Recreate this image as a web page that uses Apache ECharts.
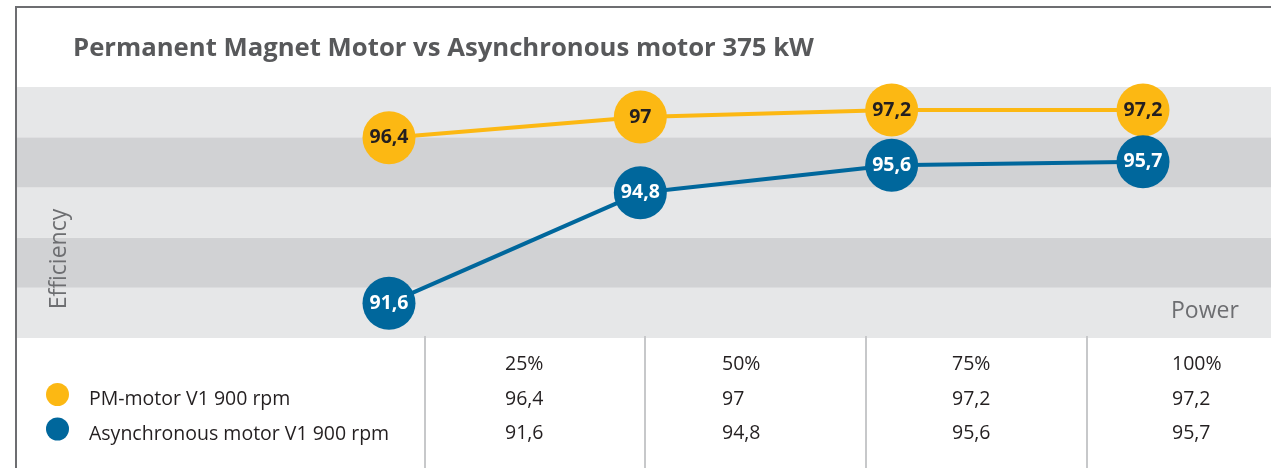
<!DOCTYPE html>
<html><head><meta charset="utf-8">
<script src="https://cdn.jsdelivr.net/npm/echarts@6/dist/echarts.min.js"></script>
<style>html,body{margin:0;padding:0;background:#fff}#c{width:1271px;height:468px}</style>
</head><body><div id="c"></div>
<script>
// ---- data ----
const titleText = 'Permanent Magnet Motor vs Asynchronous motor 375 kW';
const categories = ['25%', '50%', '75%', '100%'];
const seriesNames = ['PM-motor V1 900 rpm', 'Asynchronous motor V1 900 rpm'];
const pmValues = [96.4, 97, 97.2, 97.2];
const asyncValues = [91.6, 94.8, 95.6, 95.7];
const yAxisName = 'Efficiency';
const xAxisName = 'Power';

// ---- style / layout ----
const FONT = '"Open Sans", sans-serif';
const colors = ['#FCB813', '#00679C'];
const labelColors = ['#231F20', '#FFFFFF'];
const colDividers = [425, 645, 866, 1087];
const colTextX = [505, 722, 952, 1172];
const rowY = [364.5, 399.5, 433.5];
const fmt = v => String(v).replace('.', ',');

const chart = echarts.init(document.getElementById('c'), null, { renderer: 'canvas' });

const graphics = [];
graphics.push({ type: 'line', shape: { x1: 15, y1: 7, x2: 1271, y2: 7 }, style: { stroke: '#6d6e71', lineWidth: 2 }, z: 10 });
graphics.push({ type: 'line', shape: { x1: 16, y1: 6, x2: 16, y2: 468 }, style: { stroke: '#6d6e71', lineWidth: 2 }, z: 10 });
colDividers.forEach(x => graphics.push({ type: 'line', shape: { x1: x, y1: 336, x2: x, y2: 468 }, style: { stroke: '#c7c8ca', lineWidth: 2 }, z: 10 }));
const tableRows = [categories, pmValues.map(fmt), asyncValues.map(fmt)];
tableRows.forEach((row, r) => row.forEach((t, c) => graphics.push({
  type: 'text', x: colTextX[c], y: rowY[r], z: 10,
  style: { text: t, fontFamily: FONT, fontSize: 19.5, fill: '#231f20', align: 'left', verticalAlign: 'middle' }
})));
graphics.push({
  type: 'text', x: 59, y: 259, rotation: Math.PI / 2, z: 10,
  style: { text: yAxisName, fontFamily: FONT, fontSize: 23, fill: '#6d6e71', align: 'center', verticalAlign: 'middle' }
});
graphics.push({
  type: 'text', x: 1171, y: 311, z: 10,
  style: { text: xAxisName, fontFamily: FONT, fontSize: 23, fill: '#6d6e71', align: 'left', verticalAlign: 'middle' }
});

const option = {
  animation: false,
  backgroundColor: '#ffffff',
  title: {
    text: titleText, left: 73, top: 36, padding: 0,
    textStyle: { fontFamily: FONT, fontWeight: 'bold', fontSize: 25.7, color: '#58595b' }
  },
  legend: {
    orient: 'vertical', left: 46, top: 383, padding: 0, itemGap: 8,
    itemWidth: 23, itemHeight: 23, icon: 'circle', data: seriesNames,
    formatter: name => '{t|' + name + '}',
    textStyle: {
      fontFamily: FONT, fontSize: 19.5, color: '#231f20', padding: [0, 0, 0, 15],
      rich: { t: { fontFamily: FONT, fontSize: 19.5, color: '#231f20', padding: [10, 0, 0, 0] } }
    }
  },
  grid: [
    { left: 17, right: 0, top: 87, height: 251, outerBoundsMode: 'none' },
    { left: 389, right: 128, top: 87, height: 251, outerBoundsMode: 'none' }
  ],
  xAxis: [
    { type: 'value', gridIndex: 0, min: 0, max: 1, show: false },
    { type: 'category', gridIndex: 1, data: categories, boundaryGap: false, show: false }
  ],
  yAxis: [
    {
      type: 'value', gridIndex: 0, min: 0, max: 5, interval: 1,
      axisLine: { show: false }, axisTick: { show: false }, axisLabel: { show: false },
      splitLine: { show: false },
      splitArea: { show: true, areaStyle: { color: ['#e6e7e8', '#d1d2d4'] } }
    },
    { type: 'value', gridIndex: 1, min: 90.59, max: 97.87, show: false }
  ],
  graphic: graphics,
  series: [pmValues, asyncValues].map((vals, i) => ({
    name: seriesNames[i], type: 'line', xAxisIndex: 1, yAxisIndex: 1, data: vals,
    symbol: 'circle', symbolSize: 53, clip: false, z: 3 + i,
    lineStyle: { color: colors[i], width: 4 },
    itemStyle: { color: colors[i] },
    label: {
      show: true, position: 'inside', formatter: p => fmt(p.value),
      color: labelColors[i], fontFamily: FONT, fontWeight: 'bold', fontSize: 19.5
    },
    emphasis: { disabled: true }
  }))
};
chart.setOption(option);
</script>
</body></html>
